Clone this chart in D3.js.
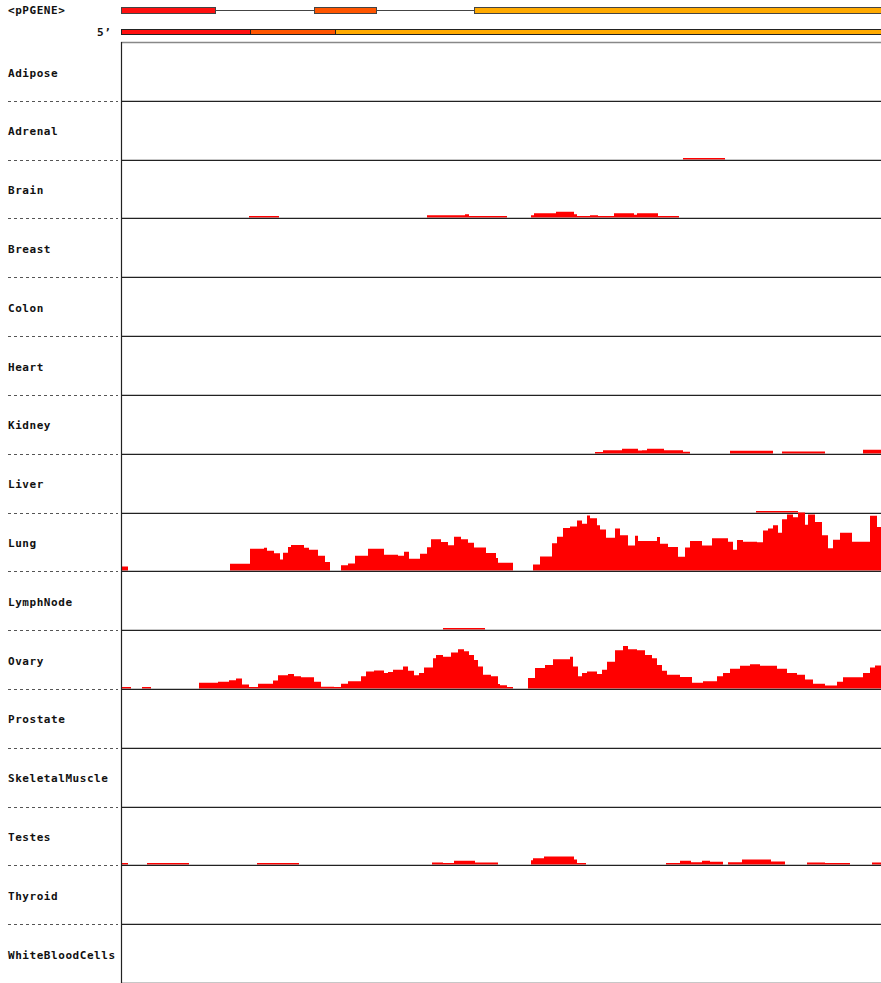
<!DOCTYPE html>
<html><head><meta charset="utf-8">
<script src="https://cdn.jsdelivr.net/npm/d3@7"></script>
<style>
html,body{margin:0;padding:0;background:#fff;}
svg{display:block;}
text{font-family:"DejaVu Sans Mono",monospace;font-weight:bold;font-size:11px;letter-spacing:0.55px;fill:#111;}
</style></head>
<body>
<script>
// ---------- DATA ----------
const tissues = ["Adipose","Adrenal","Brain","Breast","Colon","Heart","Kidney","Liver","Lung",
  "LymphNode","Ovary","Prostate","SkeletalMuscle","Testes","Thyroid","WhiteBloodCells"];
const geneName = "<pPGENE>";
const strandLabel = "5\u2019";
// gene model: exons [start, end] in genome units (0..760 visible)
const exonStarts = [0, 193, 353];
const exonEnds   = [95, 256, 800];
const exonColors = ["#ff1010", "#ff5500", "#ffaa00"];
// transcript (spliced) segments
const txStarts = [0, 129, 214];
const txEnds   = [129, 214, 800];
// coverage: [position, value] step points (value holds until next position)
const adipose = [];
const adrenal = [[562,1],[604,0]];
const brain = [[128,1],[158,0],[306,2.3],[344,3.3],[348,1],[386,0],[410,2.3],[413,4.3],[435,5.7],[453,3.3],
  [456,1],[469,2.3],[477,1],[493,4.3],[513,2.7],[516,4.3],[537,1],[558,0]];
const breast = [];
const colon = [];
const heart = [];
const kidney = [[474,1.3],[482,3.3],[501,4.7],[517,3],[521,3.3],[526,4.7],[543,3.3],[562,1.7],[569,0],
  [609,2.7],[652,0],[661,2],[704,0],[742,3.7],[760,3.7]];
const liver = [[635,1],[677,0]];
const lung = [[0,4],[7,0],[109,6.7],[129,22],[143,23],[146,20],[153,17.6],[159,11],[162,18],[167,24],[170,26],
  [183,23],[188,21],[197,15],[204,8.7],[209,0],[220,5.3],[227,7],[234,15],[247,22],[263,16],[277,15],[283,19],
  [288,12],[299,17],[306,23.7],[310,31.7],[320,29],[327,25.7],[333,34.3],[340,31.7],[347,28.3],[353,23.3],
  [365,17.7],[375,12.7],[377,7.7],[392,0],[412,6],[419,14.3],[431,27.7],[436,34.3],[442,43.3],[449,44.7],
  [456,51],[461,47.7],[466,56],[469,53.3],[476,46],[479,41.7],[485,33.3],[494,42.7],[499,36],[507,25.3],
  [514,35.3],[517,30],[536,34],[539,27.3],[547,24],[557,14],[564,23.3],[569,30],[581,25.3],[591,32.7],
  [607,29.3],[612,21],[616,31],[622,29.3],[636,28.7],[642,40.7],[647,42.7],[652,46],[657,38.3],[661,52.3],
  [666,57],[672,54.3],[677,59],[684,46.7],[687,57],[694,49.3],[701,36],[707,22.7],[712,31.3],[719,38.3],
  [731,29.3],[749,55.7],[756,44.3],[760,44.3]];
const lymphNode = [[322,1],[364,0]];
const ovary = [[0,1.3],[10,0],[21,1.3],[30,0],[78,5.7],[97,6.7],[108,8.3],[115,10],[121,4],[128,1.3],[137,4.7],
  [152,8],[157,13.3],[167,14.7],[173,12.3],[180,11.3],[193,6.7],[200,1.7],[213,1.3],[220,4.7],[227,7.3],
  [240,12.3],[245,17.3],[253,18.3],[263,15.7],[267,16.7],[272,19],[282,22.3],[287,18],[293,13.3],[298,15.7],
  [303,21.3],[312,30.7],[315,34],[322,32.3],[330,36.7],[337,40],[343,38],[348,34],[353,29],[357,22.3],
  [362,14],[370,12.3],[377,4.5],[379,3.3],[386,1.3],[392,0],[407,10.7],[414,20.7],[424,24],[432,29.7],
  [449,32.3],[452,22.3],[457,12.3],[461,15.7],[466,17.3],[476,14.7],[481,19],[486,27.3],[494,39],[502,43.3],
  [507,40],[516,39],[524,34],[531,30.7],[536,24],[541,18],[546,14],[559,11.7],[571,5.7],[582,7.3],[596,12.3],
  [602,15.7],[609,20],[619,23],[629,24.7],[639,23],[656,20],[666,15.7],[676,14],[684,9],[692,4.7],[704,3],
  [716,6.7],[722,11.3],[742,15.7],[749,21.3],[754,23.3],[760,23.3]];
const prostate = [];
const skeletalMuscle = [];
const testes = [[0,1],[7,0],[26,1],[68,0],[136,1],[178,0],[311,2],[322,1],[333,3.7],[354,2],[377,0],[410,4.3],
  [412,6.3],[423,8],[453,5],[456,1],[465,0],[545,1],[559,3.7],[570,2.3],[581,3.7],[589,2.7],[602,0],[607,2.3],
  [621,5],[650,3],[664,0],[686,2],[704,1],[729,0],[751,2],[760,2]];
const thyroid = [];
const whiteBloodCells = [];
const coverage = [adipose,adrenal,brain,breast,colon,heart,kidney,liver,lung,lymphNode,ovary,prostate,
  skeletalMuscle,testes,thyroid,whiteBloodCells];

// ---------- LAYOUT ----------
const W = 881, H = 983;
const left = 121, right = 881, trackTop = 42, trackBottom = 983;
const svg = d3.select("body").append("svg").attr("width", W).attr("height", H);

const x = d3.scaleLinear().domain([0, 760]).range([left, right]);
const row = d3.scaleBand().domain(tissues).range([trackTop, trackBottom]).paddingInner(0).paddingOuter(0);
const rowH = row.bandwidth();
const y = d3.scaleLinear().domain([0, 59]).range([0, rowH - 1]);

svg.append("defs").append("clipPath").attr("id","plotclip")
  .append("rect").attr("x", left).attr("y", 0).attr("width", right - left).attr("height", H);

// ---------- GENE TRACK ----------
svg.append("text").attr("x", 8).attr("y", 14).text(geneName);
svg.append("text").attr("x", 97).attr("y", 36).text(strandLabel);

const gene = svg.append("g").attr("clip-path","url(#plotclip)");
gene.append("line").attr("x1", x(0)).attr("x2", x(760)).attr("y1", 10.5).attr("y2", 10.5)
  .attr("stroke", "#444").attr("stroke-width", 1);
gene.selectAll("rect.exon").data(exonStarts).join("rect").attr("class","exon")
  .attr("x", (d) => x(d) + 0.5).attr("y", 7.5)
  .attr("width", (d,i) => x(exonEnds[i]) - x(d) - 1).attr("height", 6)
  .attr("fill", (d,i) => exonColors[i]).attr("stroke", "#444").attr("stroke-width", 1);
gene.selectAll("rect.tx").data(txStarts).join("rect").attr("class","tx")
  .attr("x", (d) => x(d) + 0.5).attr("y", 29.5)
  .attr("width", (d,i) => x(txEnds[i]) - x(d)).attr("height", 5)
  .attr("fill", (d,i) => exonColors[i]).attr("stroke", "#222").attr("stroke-width", 1);

// top border of tracks
svg.append("line").attr("x1", left).attr("x2", right).attr("y1", trackTop + 0.5).attr("y2", trackTop + 0.5)
  .attr("stroke", "#888").attr("stroke-width", 1.5);

// ---------- TISSUE ROWS ----------
const area = d3.area().curve(d3.curveStepAfter);
const rows = svg.selectAll("g.row").data(tissues).join("g").attr("class","row");

rows.each(function(t, i) {
  const g = d3.select(this);
  const top = row(t), bottom = top + rowH;
  const lineY = Math.round(bottom);
  const base = lineY - 0.6;
  g.append("text").attr("x", 8).attr("y", top + 34.5).text(t);
  const pts = coverage[i];
  if (pts.length) {
    area.x(d => x(d[0])).y0(base).y1(d => d[1] > 0 ? base - Math.max(1.4, y(d[1])) : base);
    g.append("path").attr("clip-path","url(#plotclip)").datum(pts).attr("d", area)
      .attr("fill", "#ff0000").attr("stroke", "none");
  }
  // separator
  g.append("line").attr("x1", 8).attr("x2", left - 3).attr("y1", lineY + 0.5).attr("y2", lineY + 0.5)
    .attr("stroke", "#555").attr("stroke-width", 1).attr("stroke-dasharray", "3,3");
  g.append("line").attr("x1", left).attr("x2", right).attr("y1", lineY + 0.3).attr("y2", lineY + 0.3)
    .attr("stroke", "#222").attr("stroke-width", 1.2);
});

// vertical axis line
svg.append("line").attr("x1", left + 0.5).attr("x2", left + 0.5).attr("y1", trackTop).attr("y2", trackBottom)
  .attr("stroke", "#222").attr("stroke-width", 1.2);
</script>
</body></html>
